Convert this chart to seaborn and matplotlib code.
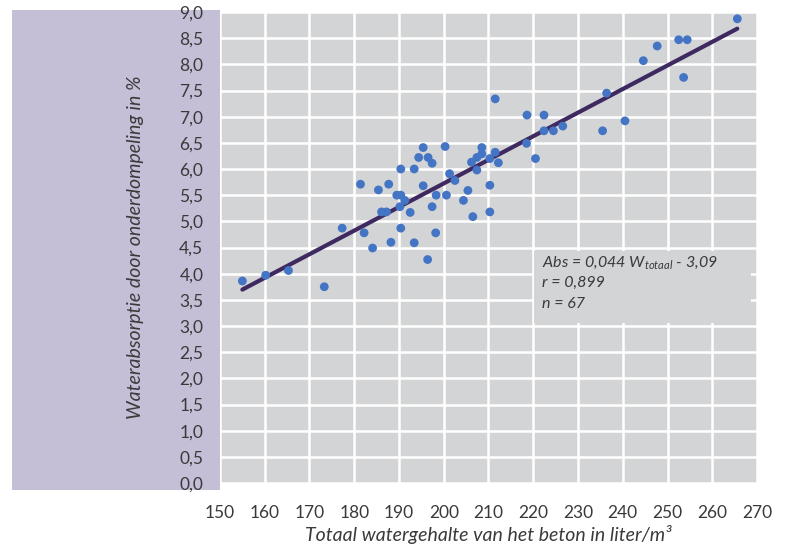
import matplotlib
matplotlib.use("Agg")
import matplotlib.pyplot as plt
import seaborn as sns
import numpy as np
import pandas as pd
from matplotlib.patches import Rectangle

# ---- data ----
water = [155.0, 160.2, 165.3, 173.3, 177.3, 181.4, 182.2, 184.1, 185.4, 187.7,
         186.1, 187.2, 188.2, 189.5, 190.4, 190.4, 191.3, 190.2, 190.4, 192.5,
         193.4, 193.4, 194.4, 195.4, 195.4, 196.5, 197.4, 197.4, 196.4, 198.3,
         198.2, 200.3, 200.6, 201.3, 202.5, 204.4, 205.4, 206.5, 206.2, 207.4,
         207.4, 208.5, 208.5, 210.3, 210.3, 210.3, 211.5, 212.2, 211.5, 218.5,
         218.6, 220.5, 222.4, 222.4, 224.5, 226.6, 235.5, 236.4, 240.5, 244.6,
         247.7, 252.5, 254.4, 253.6, 265.6]
absorption = [3.86, 3.97, 4.06, 3.75, 4.87, 5.71, 4.78, 4.49, 5.60, 5.71,
              5.18, 5.18, 4.60, 5.50, 6.00, 5.50, 5.40, 5.28, 4.87, 5.17,
              6.00, 4.59, 6.22, 6.41, 5.68, 6.22, 6.11, 5.28, 4.27, 5.50,
              4.78, 6.43, 5.50, 5.91, 5.78, 5.40, 5.59, 5.09, 6.13, 6.22,
              5.98, 6.29, 6.41, 6.20, 5.69, 5.18, 6.32, 6.12, 7.34, 6.49,
              7.03, 6.20, 7.03, 6.73, 6.73, 6.82, 6.73, 7.45, 6.92, 8.07,
              8.35, 8.47, 8.47, 7.75, 8.87]
x_ticks = [150, 160, 170, 180, 190, 200, 210, 220, 230, 240, 250, 260, 270]
y_ticks = [0.0, 0.5, 1.0, 1.5, 2.0, 2.5, 3.0, 3.5, 4.0, 4.5, 5.0, 5.5, 6.0,
           6.5, 7.0, 7.5, 8.0, 8.5, 9.0]
y_tick_labels = [f"{v:.1f}".replace(".", ",") for v in y_ticks]
stats_lines = [r"Abs = 0,044 W$_{\mathit{totaal}}$ - 3,09", "r = 0,899", "n = 67"]
xlabel = "Totaal watergehalte van het beton in liter/m³"
ylabel = "Waterabsorptie door onderdompeling in %"

df = pd.DataFrame({"water": water, "abs": absorption})

BG = "#d3d4d6"
LAV = "#c4bfd6"
TXT = "#3a3a3a"

sns.set_style("whitegrid", {"axes.facecolor": BG, "grid.color": "white"})
plt.rcParams["font.family"] = ["Lato", "DejaVu Sans"]
plt.rcParams["mathtext.fontset"] = "custom"
plt.rcParams["mathtext.rm"] = "Lato:italic"
plt.rcParams["mathtext.it"] = "Lato:italic"

fig = plt.figure(figsize=(7.85, 5.47), dpi=100)
fig.patches.append(Rectangle((12 / 785, 1 - 490 / 547), 208 / 785, 480 / 547,
                             transform=fig.transFigure, facecolor=LAV,
                             edgecolor="none", zorder=-10))
ax = fig.add_axes([220 / 785, 1 - 483 / 547, 537 / 785, 471 / 547])
ax.set_zorder(1)
ax.set_facecolor(BG)

sns.regplot(data=df, x="water", y="abs", scatter=False, ci=None, ax=ax,
            line_kws={"color": "#3e2a60", "lw": 3.0, "solid_capstyle": "round",
                      "zorder": 3})
sns.scatterplot(data=df, x="water", y="abs", ax=ax, color="#4474c4",
                s=40, edgecolor="none", zorder=4)

ax.set_xlim(150, 270)
ax.set_ylim(0, 9)
ax.set_xticks(x_ticks)
ax.set_xticklabels([str(t) for t in x_ticks])
ax.set_yticks(y_ticks)
ax.set_yticklabels(y_tick_labels)
ax.grid(True, color="white", lw=1.8)
ax.set_axisbelow(True)
for s in ax.spines.values():
    s.set_visible(False)
ax.tick_params(axis="both", length=0, labelsize=12.5, colors=TXT)
ax.tick_params(axis="y", pad=12)
ax.tick_params(axis="x", pad=16)

ax.set_xlabel(xlabel, fontsize=14, style="italic", color=TXT, labelpad=3)
ax.set_ylabel(ylabel, fontsize=14, style="italic", color=TXT, labelpad=25)

# statistics box (covers the grid)
ax.add_patch(Rectangle((220.1, 3.06), 48.5, 1.37, facecolor=BG,
                       edgecolor="none", zorder=2))
for i, line in enumerate(stats_lines):
    ax.text(222.0, 4.22 - i * 0.40, line, fontsize=11.5, style="italic",
            color=TXT, va="center", ha="left", zorder=5)

fig.savefig("out.png", dpi=100)
